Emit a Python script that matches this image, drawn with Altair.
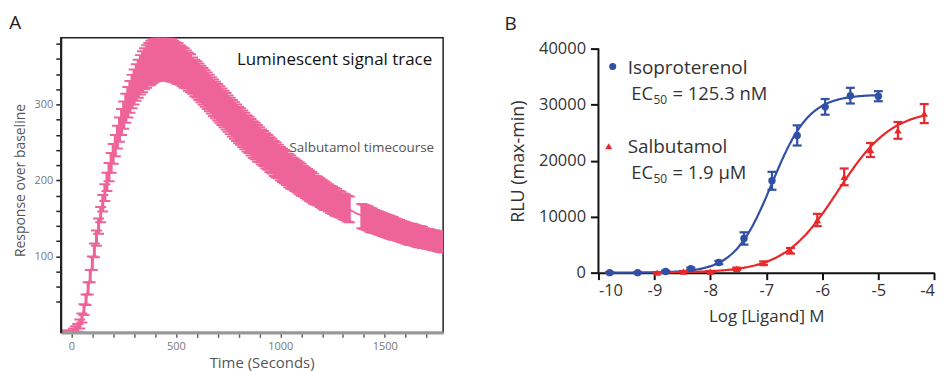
import altair as alt
import pandas as pd

# ---------------- Panel A data ----------------
time_s = [-40, -30, -20, -10,
          0, 10, 20, 30, 40, 50, 60, 70, 80, 90,
          100, 110, 120, 130, 140, 150, 160, 170, 180, 190,
          200, 210, 220, 230, 240, 250, 260, 270, 280, 290,
          300, 310, 320, 330, 340, 350, 360, 370, 380, 390,
          400, 410, 420, 430, 440, 450,
          460, 470, 480, 490, 500, 510, 520, 530, 540, 550,
          560, 570, 580, 590, 600, 610, 620, 630, 640, 650,
          660, 670, 680, 690, 700, 710, 720, 730, 740, 750,
          760, 770, 780, 790, 800, 810, 820, 830, 840, 850,
          860, 870, 880, 890, 900, 910, 920, 930, 940, 950,
          960, 970, 980, 990, 1000, 1010, 1020, 1030, 1040, 1050,
          1060, 1070, 1080, 1090, 1100, 1110, 1120, 1130, 1140, 1150,
          1160, 1170, 1180, 1190, 1200, 1210, 1220, 1230, 1240, 1250,
          1260, 1270, 1280, 1290, 1300, 1310, 1320, 1330, 1340, 1350,
          1360, 1370, 1380, 1390, 1400, 1410, 1420, 1430, 1440, 1450,
          1460, 1470, 1480, 1490, 1500, 1510, 1520, 1530, 1540, 1550,
          1560, 1570, 1580, 1590, 1600, 1610, 1620, 1630, 1640, 1650,
          1660, 1670, 1680, 1690, 1700, 1710, 1720, 1730, 1740, 1750,
          1760, 1770, 1780]

response = [0, 0, 0, 0,
            0, 1, 3, 6, 11, 19, 30, 43, 58, 74,
            91, 108, 124, 140, 155, 170, 184, 198, 211, 223,
            235, 246, 257, 267, 277, 286, 295, 303, 310, 317,
            323, 329, 334, 339, 343, 347, 350, 353, 355, 357,
            359, 360, 361, 361, 361, 361,
            360, 359, 358, 357, 355, 354, 352, 350, 348, 346,
            343, 341, 338, 335, 333, 330, 327, 324, 321, 318,
            315, 312, 309, 306, 303, 300, 297, 294, 291, 288,
            285, 282, 279, 276, 273, 271, 268, 265, 262, 260,
            257, 254, 252, 249, 247, 244, 242, 239, 237, 234,
            232, 229, 227, 225, 222, 220, 218, 216, 213, 211,
            209, 207, 205, 203, 201, 199, 197, 195, 193, 191,
            189, 187, 186, 184, 182, 180, 179, 177, 175, 174,
            172, 171, 169, 168, 166, 165, 163, 162, 160, 159,
            157, 156, 155, 153, 152, 151, 150, 148, 147, 146,
            145, 144, 143, 142, 141, 140, 139, 138, 137, 136,
            135, 134, 133, 132, 131, 130, 129, 129, 128, 127,
            126, 126, 125, 124, 123, 123, 122, 121, 121, 120,
            119, 119, 118]

response_err = [2, 2, 2, 2,
                2, 4, 5, 5, 6, 6, 7, 7, 8, 8,
                9, 9, 10, 10, 10, 11, 11, 12, 12, 13,
                13, 14, 15, 16, 17, 18, 19, 20, 21, 22,
                23, 24, 25, 26, 27, 27, 28, 28, 29, 29,
                29, 29, 29, 29, 29, 29,
                28, 28, 28, 27, 27, 27, 26, 26, 26, 25,
                25, 25, 24, 24, 24, 24, 24, 24, 24, 24,
                24, 24, 24, 24, 24, 24, 24, 24, 24, 24,
                24, 24, 24, 24, 24, 24, 24, 24, 24, 24,
                24, 24, 24, 24, 23, 23, 23, 23, 23, 23,
                23, 23, 23, 22, 22, 22, 22, 22, 22, 22,
                21, 21, 21, 21, 21, 20, 20, 20, 20, 20,
                20, 19, 19, 19, 19, 19, 18, 18, 18, 18,
                18, 18, 17, 17, 17, 17, 17, 17, 0, 0,
                0, 0, 0, 16, 16, 16, 16, 16, 16, 15,
                15, 15, 15, 15, 15, 15, 15, 15, 15, 14,
                14, 14, 14, 14, 14, 14, 14, 14, 14, 14,
                14, 14, 14, 13, 13, 13, 13, 13, 13, 13,
                13, 13, 13]

x_ticks_A = [0, 100, 200, 300, 400, 500, 600, 700, 800, 900, 1000,
             1100, 1200, 1300, 1400, 1500, 1600, 1700]
y_ticks_A = [40, 60, 80, 100, 120, 140, 160, 180, 200, 220, 240, 260,
             280, 300, 320, 340, 360, 380]

# ---------------- Panel B data ----------------
iso_logc = [-9.8, -9.3, -8.8, -8.35, -7.85, -7.4, -6.9, -6.45, -5.95, -5.5, -5.0]
iso_rlu = [0, 0, 200, 700, 1800, 6100, 16400, 24500, 29600, 31600, 31500]
iso_err = [100, 100, 150, 200, 300, 1100, 1600, 1800, 1400, 1400, 900]

sal_logc = [-8.95, -8.48, -8.0, -7.53, -7.05, -6.57, -6.09, -5.61, -5.14, -4.65, -4.18]
sal_rlu = [0, 200, 200, 700, 1700, 3900, 9400, 17100, 21900, 25400, 28400]
sal_err = [100, 100, 100, 200, 300, 500, 1100, 1500, 1250, 1500, 1700]

# four-parameter logistic fits (EC50 from the labels)
iso_fit = {"bottom": 0, "top": 31800, "log_ec50": -6.902, "hill": 1.3, "start": -9.8, "stop": -5.0}
sal_fit = {"bottom": 0, "top": 29200, "log_ec50": -5.721, "hill": 0.9, "start": -8.95, "stop": -4.18}

x_ticks_B = [-10, -9, -8, -7, -6, -5, -4]
y_ticks_B = [0, 10000, 20000, 30000, 40000]

PINK = "#ee6499"
BLUE = "#3050a5"
RED = "#e8282b"
FONT = "Open Sans"


def label(text, x, y, size, color="#333", align="left", baseline="alphabetic"):
    return alt.Chart(pd.DataFrame({"label": [text]})).mark_text(
        align=align, baseline=baseline, fontSize=size, color=color, font=FONT
    ).encode(text="label:N", x=alt.value(x), y=alt.value(y))


# ---------------- Panel A ----------------
dfA = pd.DataFrame({"t": time_s, "resp": response, "err": response_err})
dfA["lo"] = dfA["resp"] - dfA["err"]
dfA["hi"] = dfA["resp"] + dfA["err"]

A_W, A_H = 384, 296
xA_scale = alt.Scale(domain=[-51, 1779], nice=False, zero=False)
yA_scale = alt.Scale(domain=[0, 388], nice=False, zero=False)

x_axis_A = alt.Axis(values=x_ticks_A, format="d",
                    labelExpr="datum.value % 500 === 0 ? datum.label : ''",
                    title="Time (Seconds)", tickSize=5, tickColor="#666", tickWidth=1.5,
                    domainColor="#999", domainWidth=3, labelColor="#777", labelFontSize=11,
                    labelPadding=3, titleFontSize=15, titleColor="#555", titleFontWeight="normal",
                    titleX=201.7, titleY=35, titleBaseline="alphabetic", titleAlign="center",
                    grid=False, zindex=1)
y_axis_A = alt.Axis(values=y_ticks_A, format="d",
                    labelExpr="datum.value % 100 === 0 ? datum.label : ''",
                    title="Response over baseline", tickSize=5, tickColor="#222", tickWidth=1.5,
                    domainColor="#222", domainWidth=2, labelColor="#777", labelFontSize=11,
                    labelPadding=3, titleFontSize=14, titleColor="#555", titleFontWeight="normal",
                    titleAngle=270, titleX=-40.7, titleY=143, titleAlign="center",
                    titleBaseline="middle", grid=False, zindex=1)

baseA = alt.Chart(dfA).encode(x=alt.X("t:Q", scale=xA_scale, axis=x_axis_A))
lineA = baseA.mark_line(color=PINK, strokeWidth=1.8, clip=True).encode(
    y=alt.Y("resp:Q", scale=yA_scale, axis=y_axis_A))
barsA = baseA.transform_filter("datum.err > 0")
stemsA = barsA.mark_rule(color=PINK, strokeWidth=3, clip=True).encode(
    y=alt.Y("lo:Q", scale=yA_scale, axis=y_axis_A), y2="hi:Q")
capHiA = barsA.mark_tick(orient="horizontal", color=PINK, size=11, thickness=2, clip=True,
                         opacity=1).encode(y=alt.Y("hi:Q", scale=yA_scale, axis=y_axis_A))
capLoA = barsA.mark_tick(orient="horizontal", color=PINK, size=11, thickness=2, clip=True,
                         opacity=1).encode(y=alt.Y("lo:Q", scale=yA_scale, axis=y_axis_A))

panelA = alt.layer(
    lineA, stemsA, capHiA, capLoA,
    label("Luminescent signal trace", 373, 27, 17, color="#111", align="right"),
    label("Salbutamol timecourse", 375, 114.7, 13.5, color="#555", align="right"),
    label("A", -51.7, -8.7, 19, color="#222"),
).properties(width=A_W, height=A_H,
             view=alt.ViewBackground(stroke="#222", strokeWidth=1.5))

# ---------------- Panel B ----------------
B_W, B_H = 337.3, 236
xB_scale = alt.Scale(domain=[-10, -4], nice=False, zero=False)
yB_scale = alt.Scale(domain=[0, 41956], nice=False, zero=False)

x_axis_B = alt.Axis(values=x_ticks_B, labelExpr="'' + datum.value", title="Log [Ligand] M",
                    tickSize=7, tickWidth=2, tickColor="#111", domainColor="#111", domainWidth=2,
                    labelColor="#333", labelFontSize=16.5, labelPadding=3, titleFontSize=17,
                    titleColor="#333", titleFontWeight="normal", titleX=168.5, titleY=48.7,
                    titleBaseline="alphabetic", titleAlign="center", grid=False)
y_axis_B = alt.Axis(values=y_ticks_B, format="d", domain=False, title="RLU (max-min)",
                    tickSize=8, tickWidth=2, tickColor="#111", labelColor="#333",
                    labelFontSize=16.5, labelPadding=5, titleFontSize=18, titleColor="#333",
                    titleFontWeight="normal", titleAngle=270, titleX=-80, titleY=124,
                    titleAlign="center", titleBaseline="middle", grid=False)

XB = lambda f: alt.X(f, scale=xB_scale, axis=x_axis_B)
YB = lambda f: alt.Y(f, scale=yB_scale, axis=y_axis_B)


def curve(fit, color):
    expr = (f"{fit['bottom']} + ({fit['top']} - {fit['bottom']}) / "
            f"(1 + pow(10, ({fit['log_ec50']} - datum.logc) * {fit['hill']}))")
    return alt.Chart(alt.sequence(fit["start"], fit["stop"] + 0.001, 0.02, as_="logc")).transform_calculate(
        rlu=expr).mark_line(color=color, strokeWidth=2.2).encode(x=XB("logc:Q"), y=YB("rlu:Q"))


def series(logc, rlu, err, color, shape, size):
    df = pd.DataFrame({"logc": logc, "rlu": rlu, "err": err})
    df["lo"] = df["rlu"] - df["err"]
    df["hi"] = df["rlu"] + df["err"]
    base = alt.Chart(df).encode(x=XB("logc:Q"))
    stems = base.mark_rule(color=color, strokeWidth=2.2).encode(y=YB("lo:Q"), y2="hi:Q")
    hi = base.mark_tick(orient="horizontal", color=color, size=9, thickness=2.2, opacity=1).encode(y=YB("hi:Q"))
    lo = base.mark_tick(orient="horizontal", color=color, size=9, thickness=2.2, opacity=1).encode(y=YB("lo:Q"))
    pts = base.mark_point(filled=True, shape=shape, size=size, color=color, opacity=1).encode(y=YB("rlu:Q"))
    return [stems, hi, lo, pts]


axis_line = alt.Chart(pd.DataFrame({"y0": [y_ticks_B[0]], "y1": [y_ticks_B[-1]]})).mark_rule(
    color="#111", strokeWidth=2).encode(x=alt.value(0), y=YB("y0:Q"), y2="y1:Q")


def legend_glyph(shape, color, x, y, size):
    return alt.Chart(pd.DataFrame({"k": [0]})).mark_point(
        filled=True, shape=shape, color=color, size=size, opacity=1).encode(
        x=alt.value(x), y=alt.value(y))


panelB = alt.layer(
    axis_line,
    curve(iso_fit, BLUE),
    curve(sal_fit, RED),
    *series(iso_logc, iso_rlu, iso_err, BLUE, "circle", 55),
    *series(sal_logc, sal_rlu, sal_err, RED, "triangle-up", 55),
    legend_glyph("circle", BLUE, 14.3, 29, 50),
    label("Isoproterenol", 29.3, 37, 19),
    label("EC", 54.8, 63, 18.5, align="right"),
    label("50", 55.3, 67, 12),
    label("= 125.3 nM", 74.3, 63, 18.5),
    legend_glyph("triangle-up", RED, 10.3, 109, 50),
    label("Salbutamol", 29.3, 116, 19),
    label("EC", 54.8, 142, 18.5, align="right"),
    label("50", 55.3, 146, 12),
    label("= 1.9 µM", 74.3, 142, 18.5),
    label("B", -94.4, -8, 19, color="#222"),
).properties(width=B_W, height=B_H, view=alt.ViewBackground(stroke="transparent"))

chart = alt.hconcat(panelA, panelB, spacing=60).properties(
    padding={"left": 0, "top": 4, "right": 0, "bottom": 0}
).configure(font=FONT)

chart.save("out.html", embed_options={"renderer": "svg", "actions": False})
